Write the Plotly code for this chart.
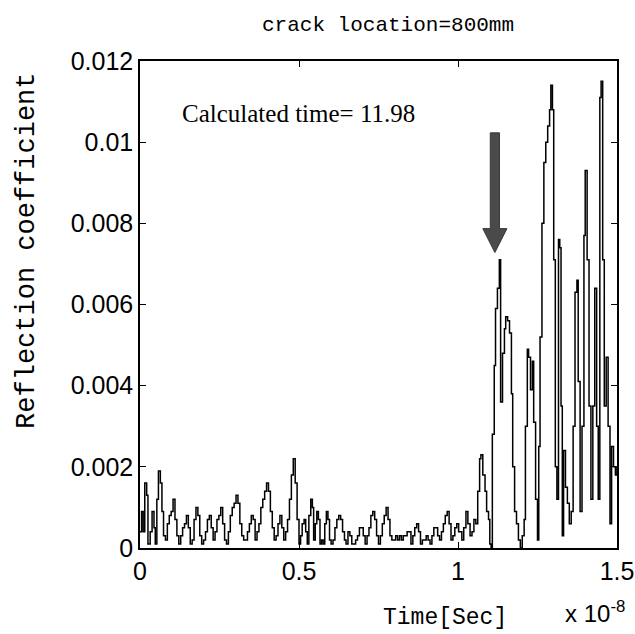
import plotly.graph_objects as go

# time in units of 1e-8 s
time_e8 = [
    0.000, 0.005, 0.010, 0.015, 0.021, 0.025, 0.032, 0.038, 0.044, 0.048,
    0.053, 0.058, 0.064, 0.069, 0.074, 0.080, 0.086, 0.092, 0.098, 0.104,
    0.110, 0.116, 0.122, 0.128, 0.134, 0.140, 0.146, 0.152, 0.158, 0.164,
    0.170, 0.176, 0.182, 0.188, 0.194, 0.200, 0.206, 0.212, 0.218, 0.224,
    0.230, 0.236, 0.242, 0.248, 0.254, 0.260, 0.266, 0.272, 0.278, 0.284,
    0.290, 0.296, 0.302, 0.308, 0.314, 0.320, 0.326, 0.332, 0.338, 0.344,
    0.350, 0.356, 0.362, 0.368, 0.374, 0.380, 0.386, 0.392, 0.398, 0.404,
    0.410, 0.416, 0.422, 0.428, 0.434, 0.440, 0.446, 0.452, 0.458, 0.464,
    0.470, 0.476, 0.482, 0.488, 0.494, 0.500, 0.505,
    0.510, 0.516, 0.521, 0.526, 0.531, 0.537, 0.542, 0.546, 0.551, 0.556,
    0.561, 0.566, 0.571, 0.576, 0.581, 0.586, 0.591, 0.596, 0.601, 0.607,
    0.613, 0.619, 0.625, 0.631, 0.637, 0.643, 0.648, 0.654, 0.660, 0.666,
    0.672, 0.678, 0.684, 0.690, 0.696, 0.702, 0.708, 0.714, 0.720, 0.726,
    0.732, 0.738, 0.744, 0.750, 0.756, 0.762, 0.768, 0.774, 0.780, 0.786,
    0.792, 0.798, 0.804, 0.810, 0.816, 0.822, 0.828, 0.834, 0.840, 0.846,
    0.852, 0.858, 0.864, 0.870, 0.876, 0.882, 0.888, 0.894, 0.900, 0.906,
    0.912, 0.918, 0.924, 0.930, 0.936, 0.942, 0.948, 0.954, 0.960, 0.966,
    0.972, 0.978, 0.984, 0.990, 0.996, 1.002,
    1.006, 1.012, 1.018, 1.025, 1.031, 1.038, 1.044, 1.050, 1.056, 1.062,
    1.068, 1.072, 1.078, 1.085, 1.090, 1.096, 1.100, 1.104, 1.108, 1.114,
    1.118, 1.124, 1.130, 1.134, 1.140, 1.146, 1.150, 1.156, 1.162, 1.168,
    1.172, 1.178, 1.184, 1.190, 1.196, 1.202, 1.208, 1.212, 1.218, 1.222,
    1.228, 1.234, 1.238, 1.244, 1.250, 1.254, 1.258, 1.264, 1.270, 1.276,
    1.282, 1.288, 1.292, 1.297, 1.301, 1.306, 1.311, 1.316, 1.320, 1.324,
    1.328, 1.332, 1.338, 1.344, 1.350, 1.356, 1.362, 1.368, 1.374, 1.378,
    1.384, 1.390, 1.396, 1.400, 1.406, 1.412, 1.418, 1.424, 1.430, 1.436,
    1.441, 1.446, 1.450, 1.455, 1.460, 1.466, 1.472, 1.478, 1.483, 1.489,
    1.495, 1.500,
]

reflection = [
    0.0004, 0.0009, 0.0004, 0.0016, 0.0013, 0.0001, 0.0004, 0.0009, 0.0005, 0.0001,
    0.0012, 0.0019, 0.0016, 0.0009, 0.0003, 0.0002, 0.0006, 0.0008, 0.0009, 0.0012,
    0.0007, 0.0003, 0.0001, 0.0003, 0.0005, 0.0006, 0.0008, 0.0005, 0.0001, 0.0002,
    0.0007, 0.0010, 0.0008, 0.0003, 0.0001, 0.0002, 0.0004, 0.0007, 0.0008, 0.0005,
    0.0002, 0.0004, 0.0007, 0.0008, 0.0010, 0.0006, 0.0002, 0.0001, 0.0004, 0.0008,
    0.0010, 0.0011, 0.0013, 0.0011, 0.0006, 0.0003, 0.0002, 0.0002, 0.0004, 0.0006,
    0.0008, 0.0007, 0.0002, 0.0004, 0.0006, 0.0010, 0.0012, 0.0014, 0.0016, 0.0014,
    0.0009, 0.0005, 0.0002, 0.0003, 0.0006, 0.0008, 0.0005, 0.0002, 0.0004, 0.0007,
    0.0012, 0.0018, 0.0022, 0.0016, 0.0007, 0.0001, 0.0003,
    0.0006, 0.0007, 0.0004, 0.0001, 0.0008, 0.0012, 0.0010, 0.0002, 0.0006, 0.0009,
    0.0007, 0.0001, 0.0002, 0.0001, 0.0006, 0.0009, 0.0007, 0.0002, 0.0001, 0.0002,
    0.0005, 0.0007, 0.0008, 0.0007, 0.0004, 0.0002, 0.0001, 0.0004, 0.0003, 0.0001,
    0.0001, 0.0002, 0.0003, 0.0005, 0.0005, 0.0003, 0.0001, 0.0003, 0.0005, 0.0008,
    0.0009, 0.0007, 0.0003, 0.0001, 0.0003, 0.0006, 0.0008, 0.0010, 0.0007, 0.0003,
    0.0002, 0.0002, 0.0003, 0.0002, 0.0003, 0.0002, 0.0003, 0.0003, 0.0004, 0.0004,
    0.0001, 0.0003, 0.0005, 0.0006, 0.0004, 0.0001, 0.0002, 0.0002, 0.0003, 0.0002,
    0.0001, 0.0003, 0.0005, 0.0005, 0.0003, 0.0002, 0.0004, 0.0006, 0.0008, 0.0009,
    0.0006, 0.0002, 0.0003, 0.0005, 0.0006, 0.0004,
    0.0004, 0.0002, 0.0005, 0.0009, 0.0006, 0.0003, 0.0004, 0.0007, 0.0006, 0.0014,
    0.0022, 0.0023, 0.0018, 0.0014, 0.0009, 0.0007, 0.0001, 0.0000, 0.0028, 0.0045,
    0.0059, 0.0064, 0.0071, 0.0036, 0.0048, 0.0054, 0.0057, 0.0056, 0.0053, 0.0038,
    0.0020, 0.0009, 0.0006, 0.0002, 0.0000, 0.0003, 0.0007, 0.0030, 0.0049, 0.0047,
    0.0039, 0.0046, 0.0031, 0.0012, 0.0002, 0.0025, 0.0052, 0.0080, 0.0095, 0.0100,
    0.0104, 0.0108, 0.0114, 0.0108, 0.0071, 0.0020, 0.0012, 0.0076, 0.0074, 0.0035,
    0.0003, 0.0024, 0.0015, 0.0011, 0.0006, 0.0009, 0.0030, 0.0063, 0.0066, 0.0041,
    0.0009, 0.0030, 0.0077, 0.0093, 0.0071, 0.0035, 0.0012, 0.0035, 0.0064, 0.0030,
    0.0012, 0.0111, 0.0115, 0.0071, 0.0035, 0.0047, 0.0030, 0.0006, 0.0025, 0.0020,
    0.0018, 0.0020,
]

x_ticks = [0, 0.5, 1, 1.5]
x_tick_labels = ["0", "0.5", "1", "1.5"]
y_ticks = [0, 0.002, 0.004, 0.006, 0.008, 0.010, 0.012]
y_tick_labels = ["0", "0.002", "0.004", "0.006", "0.008", "0.01", "0.012"]

# arrow marker (data coords) pointing at the calculated time
arrow_x_center = 1.116
arrow_top, arrow_neck, arrow_tip = 0.01023, 0.00787, 0.00728
arrow_shaft_half, arrow_head_half = 0.0145, 0.038

mono = "Liberation Mono, DejaVu Sans Mono, monospace"
sans = "Liberation Sans, Arial, sans-serif"

fig = go.Figure()
fig.add_trace(go.Scatter(
    x=time_e8, y=reflection, mode="lines",
    line=dict(color="black", width=1.5, shape="hv"),
    showlegend=False, hoverinfo="skip",
))

ax = arrow_x_center
path = (f"M {ax - arrow_shaft_half},{arrow_top} L {ax + arrow_shaft_half},{arrow_top} "
        f"L {ax + arrow_shaft_half},{arrow_neck} L {ax + arrow_head_half},{arrow_neck} "
        f"L {ax},{arrow_tip} L {ax - arrow_head_half},{arrow_neck} "
        f"L {ax - arrow_shaft_half},{arrow_neck} Z")
fig.add_shape(type="path", path=path, xref="x", yref="y",
              fillcolor="#4a4a4a", line=dict(color="#3a3a3a", width=1))

fig.add_annotation(x=0.125, y=0.0107, xref="x", yref="y", xanchor="left", yanchor="middle",
                   text="Calculated time= 11.98", showarrow=False,
                   font=dict(family="Liberation Serif, Times New Roman, serif", size=25, color="black"))

fig.add_annotation(x=0.52, y=1.0, xref="paper", yref="paper", yanchor="middle", yshift=36,
                   text="crack location=800mm", showarrow=False,
                   font=dict(family=mono, size=21, color="black"))

fig.add_annotation(x=0.64, y=0, xref="paper", yref="paper", yanchor="middle", yshift=-70,
                   text="Time[Sec]", showarrow=False,
                   font=dict(family=mono, size=23, color="black"))

fig.add_annotation(x=1.02, y=0, xref="paper", yref="paper", xanchor="right", yanchor="middle",
                   yshift=-64, text="x 10<sup>-8</sup>", showarrow=False,
                   font=dict(family=sans, size=24, color="black"))

fig.add_annotation(x=0, y=0.61, xref="paper", yref="paper", xanchor="center", yanchor="middle",
                   xshift=-113, text="Reflection coefficient", textangle=-90, showarrow=False,
                   font=dict(family=mono, size=27, color="black"))

fig.update_layout(
    width=635, height=634,
    margin=dict(l=140, r=18, t=61, b=86),
    paper_bgcolor="white", plot_bgcolor="white",
    xaxis=dict(range=[0, 1.5], tickvals=x_ticks, ticktext=x_tick_labels, automargin=False,
               showline=True, linecolor="black", linewidth=1.5, mirror="allticks",
               ticks="inside", ticklen=6, tickcolor="black", showgrid=False, zeroline=False,
               tickfont=dict(family=sans, size=25, color="black")),
    yaxis=dict(range=[0, 0.012], tickvals=y_ticks, ticktext=y_tick_labels, automargin=False,
               showline=True, linecolor="black", linewidth=1.5, mirror="allticks",
               ticks="inside", ticklen=6, tickcolor="black", showgrid=False, zeroline=False,
               tickfont=dict(family=sans, size=25, color="black")),
)

fig.write_html("out.html")
